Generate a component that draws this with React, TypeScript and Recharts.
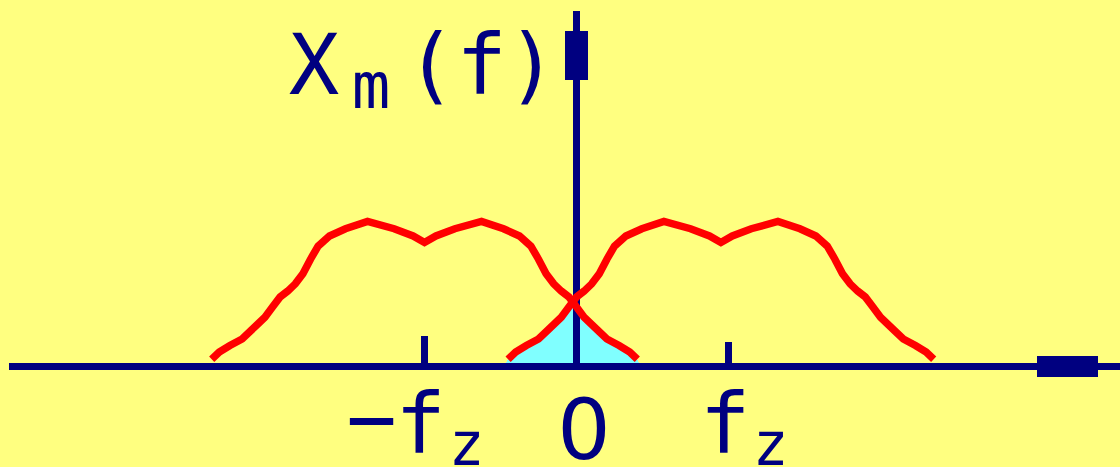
import React from 'react';
import {
  ComposedChart,
  XAxis,
  YAxis,
  Line,
  Area,
  ReferenceLine,
  ReferenceArea,
  ReferenceDot,
} from 'recharts';

// ---- data (x in units of fz, y in units of peak spectrum height) ----
// shape of one shifted spectrum copy: offsets from its centre and heights
const SPEC_OFFSETS = [
  -1.40, -1.35, -1.28, -1.20, -1.15, -1.10, -1.05, -1.00, -0.95, -0.90,
  -0.85, -0.80, -0.75, -0.70, -0.625, -0.52, -0.375, -0.20, -0.075, 0,
  0.075, 0.20, 0.375, 0.52, 0.625, 0.70, 0.75, 0.80, 0.85, 0.90,
  0.95, 1.00, 1.05, 1.10, 1.15, 1.20, 1.28, 1.35, 1.40,
];
const SPEC_HEIGHTS = [
  0.05, 0.10, 0.145, 0.19, 0.24, 0.29, 0.34, 0.41, 0.48, 0.52,
  0.57, 0.64, 0.74, 0.83, 0.90, 0.95, 1.0, 0.95, 0.90, 0.855,
  0.90, 0.95, 1.0, 0.95, 0.90, 0.83, 0.74, 0.64, 0.57, 0.52,
  0.48, 0.41, 0.34, 0.29, 0.24, 0.19, 0.145, 0.10, 0.05,
];
// centres of the two shifted copies (-fz and +fz)
const COPY_CENTRES = [-1.0, 0.95];

// overlapping (aliasing) region around f = 0
const OVERLAP_X = [
  -0.477, -0.451, -0.398, -0.326, -0.25, -0.20, -0.151, -0.102, -0.049, -0.026,
  0.0, 0.049, 0.099, 0.148, 0.197, 0.273, 0.345, 0.398, 0.424,
];
const OVERLAP_Y = [
  0, 0.05, 0.10, 0.145, 0.19, 0.24, 0.29, 0.34, 0.41, 0.44,
  0.41, 0.34, 0.29, 0.24, 0.19, 0.145, 0.10, 0.05, 0,
];

// tick marks on the f axis
const TICK_POSITIONS = [-1, 1];
const TICK_HEIGHTS = [0.21, 0.17];

// axis labels
const TICK_LABEL_POS = [-1, 0, 1];
const TICK_LABELS = [
  { prefix: '−', main: 'f', sub: 'z' },
  { prefix: '', main: '0', sub: '' },
  { prefix: '', main: 'f', sub: 'z' },
];
const Y_LABEL = { main: 'X', sub: 'm', arg: 'f' };

// ---- layout ----
const W = 1120;
const H = 467;
const X_MIN = -3.7928;
const X_MAX = 3.5757;
const Y_MIN = -0.6931;
const Y_MAX = 2.5276;

const BG = '#FFFF80';
const NAVY = '#000080';
const RED = '#FF0000';
const CYAN = '#80FFFF';
const MONO = '"DejaVu Sans Mono", monospace';
const SANS = '"DejaVu Sans", sans-serif';

const copies = COPY_CENTRES.map((c) =>
  SPEC_OFFSETS.map((o, i) => ({ x: c + o, y: SPEC_HEIGHTS[i] }))
);
const overlap = OVERLAP_X.map((x, i) => ({ x, y: OVERLAP_Y[i] }));

const YLabelShape = (props: any) => {
  const { cx, cy } = props;
  return (
    <text x={cx - 287.8} y={cy - 272.5} fontSize={84} fontFamily={MONO} fill={NAVY}>
      {Y_LABEL.main}
      <tspan dx={12.4} dy={14} fontSize={64}>{Y_LABEL.sub}</tspan>
      <tspan dx={15.4} dy={-14}>({Y_LABEL.arg})</tspan>
    </text>
  );
};

const makeTickLabelShape = (lab: { prefix: string; main: string; sub: string }) => (props: any) => {
  const { cx, cy } = props;
  if (lab.main === '0') {
    return (
      <text x={cx + 7.5} y={cy + 92.5} textAnchor="middle" fontSize={84} fontFamily={SANS} fill={NAVY}>
        {lab.main}
      </text>
    );
  }
  if (lab.prefix) {
    return (
      <text x={cx - 78.3} y={cy + 81.5} fontSize={84} fontFamily={MONO} fill={NAVY}>
        {lab.prefix}
        <tspan dx={-1.6} dy={5}>{lab.main}</tspan>
        <tspan dx={2.7} dy={12} fontSize={60}>{lab.sub}</tspan>
      </text>
    );
  }
  return (
    <text x={cx - 28.8} y={cy + 86.5} fontSize={84} fontFamily={MONO} fill={NAVY}>
      {lab.main}
      <tspan dx={2.2} dy={12} fontSize={60}>{lab.sub}</tspan>
    </text>
  );
};

export default function App() {
  return (
    <div
      style={{
        position: 'absolute',
        left: 0,
        top: 0,
        width: W,
        height: H,
        background: BG,
        shapeRendering: 'crispEdges',
      }}
    >
      <ComposedChart width={W} height={H} margin={{ top: 0, right: 0, bottom: 0, left: 0 }}>
        <XAxis dataKey="x" type="number" domain={[X_MIN, X_MAX]} hide allowDataOverflow />
        <YAxis type="number" domain={[Y_MIN, Y_MAX]} hide allowDataOverflow />

        <Area
          data={overlap}
          dataKey="y"
          type="linear"
          fill={CYAN}
          fillOpacity={1}
          stroke="none"
          baseValue={0}
          isAnimationActive={false}
        />

        {/* f axis */}
        <ReferenceLine
          segment={[{ x: -3.734, y: 0 }, { x: X_MAX, y: 0 }]}
          stroke={NAVY}
          strokeWidth={7}
        />
        <ReferenceArea x1={3.03} x2={3.431} y1={-0.072} y2={0.072} fill={NAVY} fillOpacity={1} stroke="none" />
        {/* amplitude axis */}
        <ReferenceLine
          segment={[{ x: 0, y: -0.024 }, { x: 0, y: 2.452 }]}
          stroke={NAVY}
          strokeWidth={7}
        />
        <ReferenceArea x1={-0.0757} x2={0.0757} y1={1.976} y2={2.314} fill={NAVY} fillOpacity={1} stroke="none" />
        {TICK_POSITIONS.map((t, i) => (
          <ReferenceLine
            key={'t' + i}
            segment={[{ x: t, y: 0 }, { x: t, y: TICK_HEIGHTS[i] }]}
            stroke={NAVY}
            strokeWidth={7}
          />
        ))}

        {copies.map((d, i) => (
          <Line
            key={'c' + i}
            data={d}
            dataKey="y"
            type="linear"
            stroke={RED}
            strokeWidth={7.5}
            shapeRendering="geometricPrecision"
            dot={false}
            activeDot={false}
            isAnimationActive={false}
          />
        ))}

        <ReferenceDot x={0} y={0} r={0} shape={YLabelShape} />
        {TICK_LABEL_POS.map((p, i) => (
          <ReferenceDot key={'l' + i} x={p} y={0} r={0} shape={makeTickLabelShape(TICK_LABELS[i])} />
        ))}
      </ComposedChart>
    </div>
  );
}
